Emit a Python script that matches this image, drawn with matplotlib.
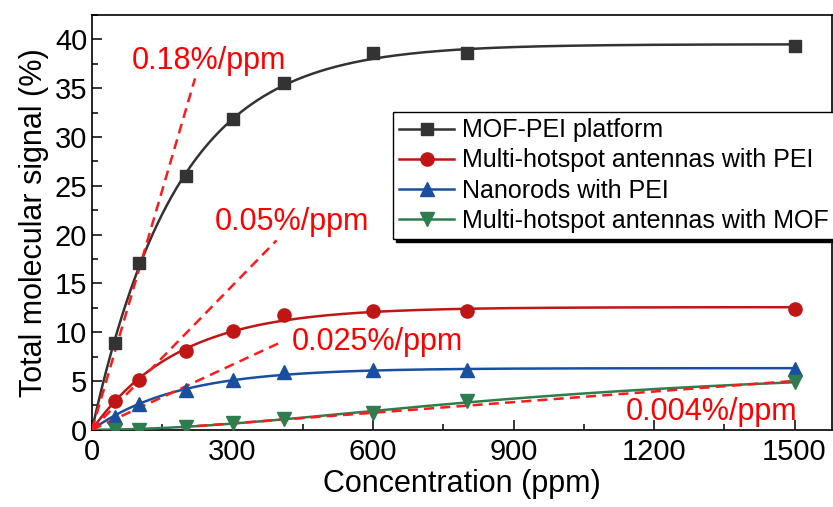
import numpy as np
import matplotlib
matplotlib.use("Agg")
import matplotlib.pyplot as plt
from matplotlib.ticker import MultipleLocator

plt.rcParams['font.family'] = ['Liberation Sans', 'DejaVu Sans']

# ---------------- data ----------------
conc = [50, 100, 200, 300, 410, 600, 800, 1500]
mof_pei = [8.85, 17.05, 26.0, 31.8, 35.5, 38.6, 38.6, 39.3]
multi_pei = [2.94, 5.1, 8.06, 10.1, 11.75, 12.15, 12.2, 12.37]
nanorods_pei = [1.33, 2.6, 4.07, 5.1, 5.95, 6.1, 6.1, 6.2]
multi_mof = [0.0, 0.0, 0.3, 0.7, 1.1, 1.75, 2.9, 4.85]

series_names = ["MOF-PEI platform", "Multi-hotspot antennas with PEI",
                "Nanorods with PEI", "Multi-hotspot antennas with MOF"]
fit_kinds = ["exp", "exp", "exp", "hill"]

# slope guide lines: (x0, y0, x1, y1) and labels
slope_lines = [(0, 0, 220, 36.0), (0, 0, 394, 19.4), (0, 0, 405, 9.0), (190, 0.25, 1500, 5.0)]
slope_labels = ["0.18%/ppm", "0.05%/ppm", "0.025%/ppm", "0.004%/ppm"]
slope_label_pos = [(85, 37.8), (263, 21.3), (426, 9.0), (1140, 1.83)]

xticks = [0, 300, 600, 900, 1200, 1500]


def fit_curve(x, y, xs, kind):
    """Least-squares fit of the data; returns fitted curve on xs."""
    x = np.asarray(x, float); y = np.asarray(y, float)
    best = None
    if kind == "exp":
        for t in np.linspace(20, 800, 1561):
            b = 1 - np.exp(-x / t)
            A = (b @ y) / (b @ b)
            err = np.sum((A * b - y) ** 2)
            if best is None or err < best[0]:
                best = (err, A, t)
        _, A, t = best
        return A * (1 - np.exp(-xs / t))
    else:
        for n in np.linspace(1.0, 3.0, 81):
            for k in np.linspace(200, 4000, 381):
                b = x ** n / (k ** n + x ** n)
                A = (b @ y) / (b @ b)
                err = np.sum((A * b - y) ** 2)
                if best is None or err < best[0]:
                    best = (err, A, n, k)
        _, A, n, k = best
        return A * xs ** n / (k ** n + xs ** n)


fig = plt.figure(figsize=(8.33, 5.07), dpi=100)
ax = fig.add_axes([92 / 833, 1 - 429.7 / 507, 740 / 833, (429.7 - 15) / 507])

colors = ['#333333', '#C01515', '#1A4FA0', '#2E7D4E']
markers = ['s', 'o', '^', 'v']
msizes = [8.5, 9.5, 9.5, 9.5]
all_series = [mof_pei, multi_pei, nanorods_pei, multi_mof]

xs = np.linspace(0, 1500, 600)
for ys, c, mk, ms, name, kind in zip(all_series, colors, markers, msizes, series_names, fit_kinds):
    ax.plot(xs, fit_curve(conc, ys, xs, kind), color=c, lw=1.8, zorder=3)
    ax.plot(conc, ys, linestyle='none', marker=mk, ms=ms, color=c, zorder=5)
    ax.plot([], [], color=c, lw=1.8, marker=mk, ms=ms, label=name)

for (x0, y0, x1, y1) in slope_lines:
    ax.plot([x0, x1], [y0, y1], color='#FF1A1A', lw=1.8, ls=(0, (4, 2.5)), zorder=4)
for txt, (tx, ty) in zip(slope_labels, slope_label_pos):
    ax.text(tx, ty, txt, color='#FF0000', fontsize=22, ha='left', va='center', zorder=6)

ax.set_xlim(0, 1580)
ax.set_ylim(0, 42.5)
ax.set_xticks(xticks)
ax.xaxis.set_minor_locator(MultipleLocator(150))
ax.yaxis.set_major_locator(MultipleLocator(5))
ax.yaxis.set_minor_locator(MultipleLocator(2.5))
ax.tick_params(which='both', direction='in', labelsize=21, width=1.1)
ax.tick_params(which='major', length=7)
ax.tick_params(which='minor', length=4)
ax.tick_params(axis='x', pad=6)
for s in ax.spines.values():
    s.set_linewidth(1.2)

ax.set_xlabel("Concentration (ppm)", fontsize=22, labelpad=2)
ax.set_ylabel("Total molecular signal (%)", fontsize=22, labelpad=4)

leg = ax.legend(loc='upper left', bbox_to_anchor=((393 - 92) / 740, (429.7 - 112) / 414.7),
                borderaxespad=0, fontsize=18, frameon=True, fancybox=False,
                edgecolor='black', shadow={'color': 'black', 'alpha': 1.0},
                handlelength=2.2, handletextpad=0.3, borderpad=0.25, labelspacing=0.25)
leg.get_frame().set_linewidth(1.0)

fig.savefig("out.png", dpi=100)
